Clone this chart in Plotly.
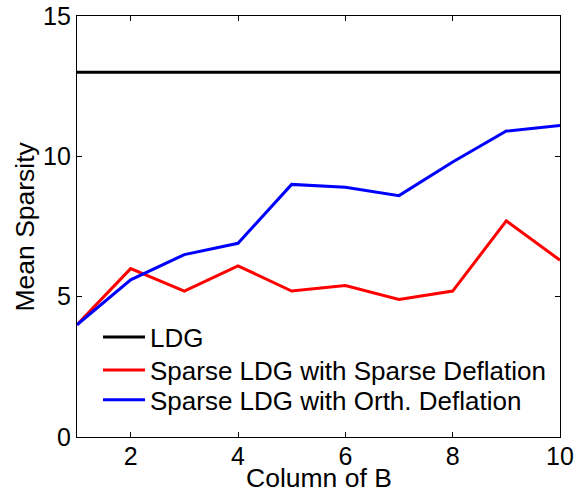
import plotly.graph_objects as go

columns = [1, 2, 3, 4, 5, 6, 7, 8, 9, 10]
ldg = [13, 13, 13, 13, 13, 13, 13, 13, 13, 13]
sparse_deflation = [4.0, 6.0, 5.2, 6.1, 5.2, 5.4, 4.9, 5.2, 7.7, 6.3]
orth_deflation = [4.0, 5.6, 6.5, 6.9, 9.0, 8.9, 8.6, 9.8, 10.9, 11.1]

names = ["LDG", "Sparse LDG with Sparse Deflation", "Sparse LDG with Orth. Deflation"]
colors = ["black", "red", "blue"]
legend_ids = ["legend", "legend2", "legend3"]
legend_rows = [0.2375, 0.159, 0.088]

TICK_FS = 25
TITLE_FS = 26.5
LEG_FS = 26

fig = go.Figure()
for name, ys, c, lg in zip(names, [ldg, sparse_deflation, orth_deflation], colors, legend_ids):
    fig.add_trace(go.Scatter(x=columns, y=ys, mode="lines", name=name, legend=lg,
                             line=dict(color=c, width=3)))

axis_common = dict(showline=True, linecolor="black", linewidth=1.3, mirror="ticks",
                   ticks="inside", ticklen=5, tickcolor="black", showgrid=False,
                   zeroline=False, automargin=False,
                   tickfont=dict(size=TICK_FS, color="black"))

leg_common = dict(x=0.0435, xanchor="left", yanchor="middle",
                  bgcolor="rgba(0,0,0,0)", borderwidth=0, itemwidth=42,
                  font=dict(size=LEG_FS, color="black"))

fig.update_layout(
    width=575, height=495,
    margin=dict(l=77, r=15, t=16, b=58),
    paper_bgcolor="white", plot_bgcolor="white",
    font=dict(family="Liberation Sans, Arial, sans-serif", size=TICK_FS, color="black"),
    xaxis=dict(range=[1, 10], tickvals=[2, 4, 6, 8, 10], ticklabelstandoff=-3, **axis_common),
    yaxis=dict(range=[0, 15], tickvals=[0, 5, 10, 15], **axis_common),
    legend=dict(y=legend_rows[0], **leg_common),
    legend2=dict(y=legend_rows[1], **leg_common),
    legend3=dict(y=legend_rows[2], **leg_common),
    showlegend=True,
    annotations=[
        dict(text="Column of B", xref="paper", yref="paper", x=0.5, y=-0.098,
             xanchor="center", yanchor="middle", showarrow=False,
             font=dict(size=TITLE_FS, color="black")),
        dict(text="Mean Sparsity", xref="paper", yref="paper", x=-0.1097, y=0.5,
             xanchor="center", yanchor="middle", showarrow=False, textangle=-90,
             font=dict(size=TITLE_FS, color="black")),
    ],
)

fig.write_html("out.html", config={"displayModeBar": False},
               post_script="document.body.style.margin='0';")
